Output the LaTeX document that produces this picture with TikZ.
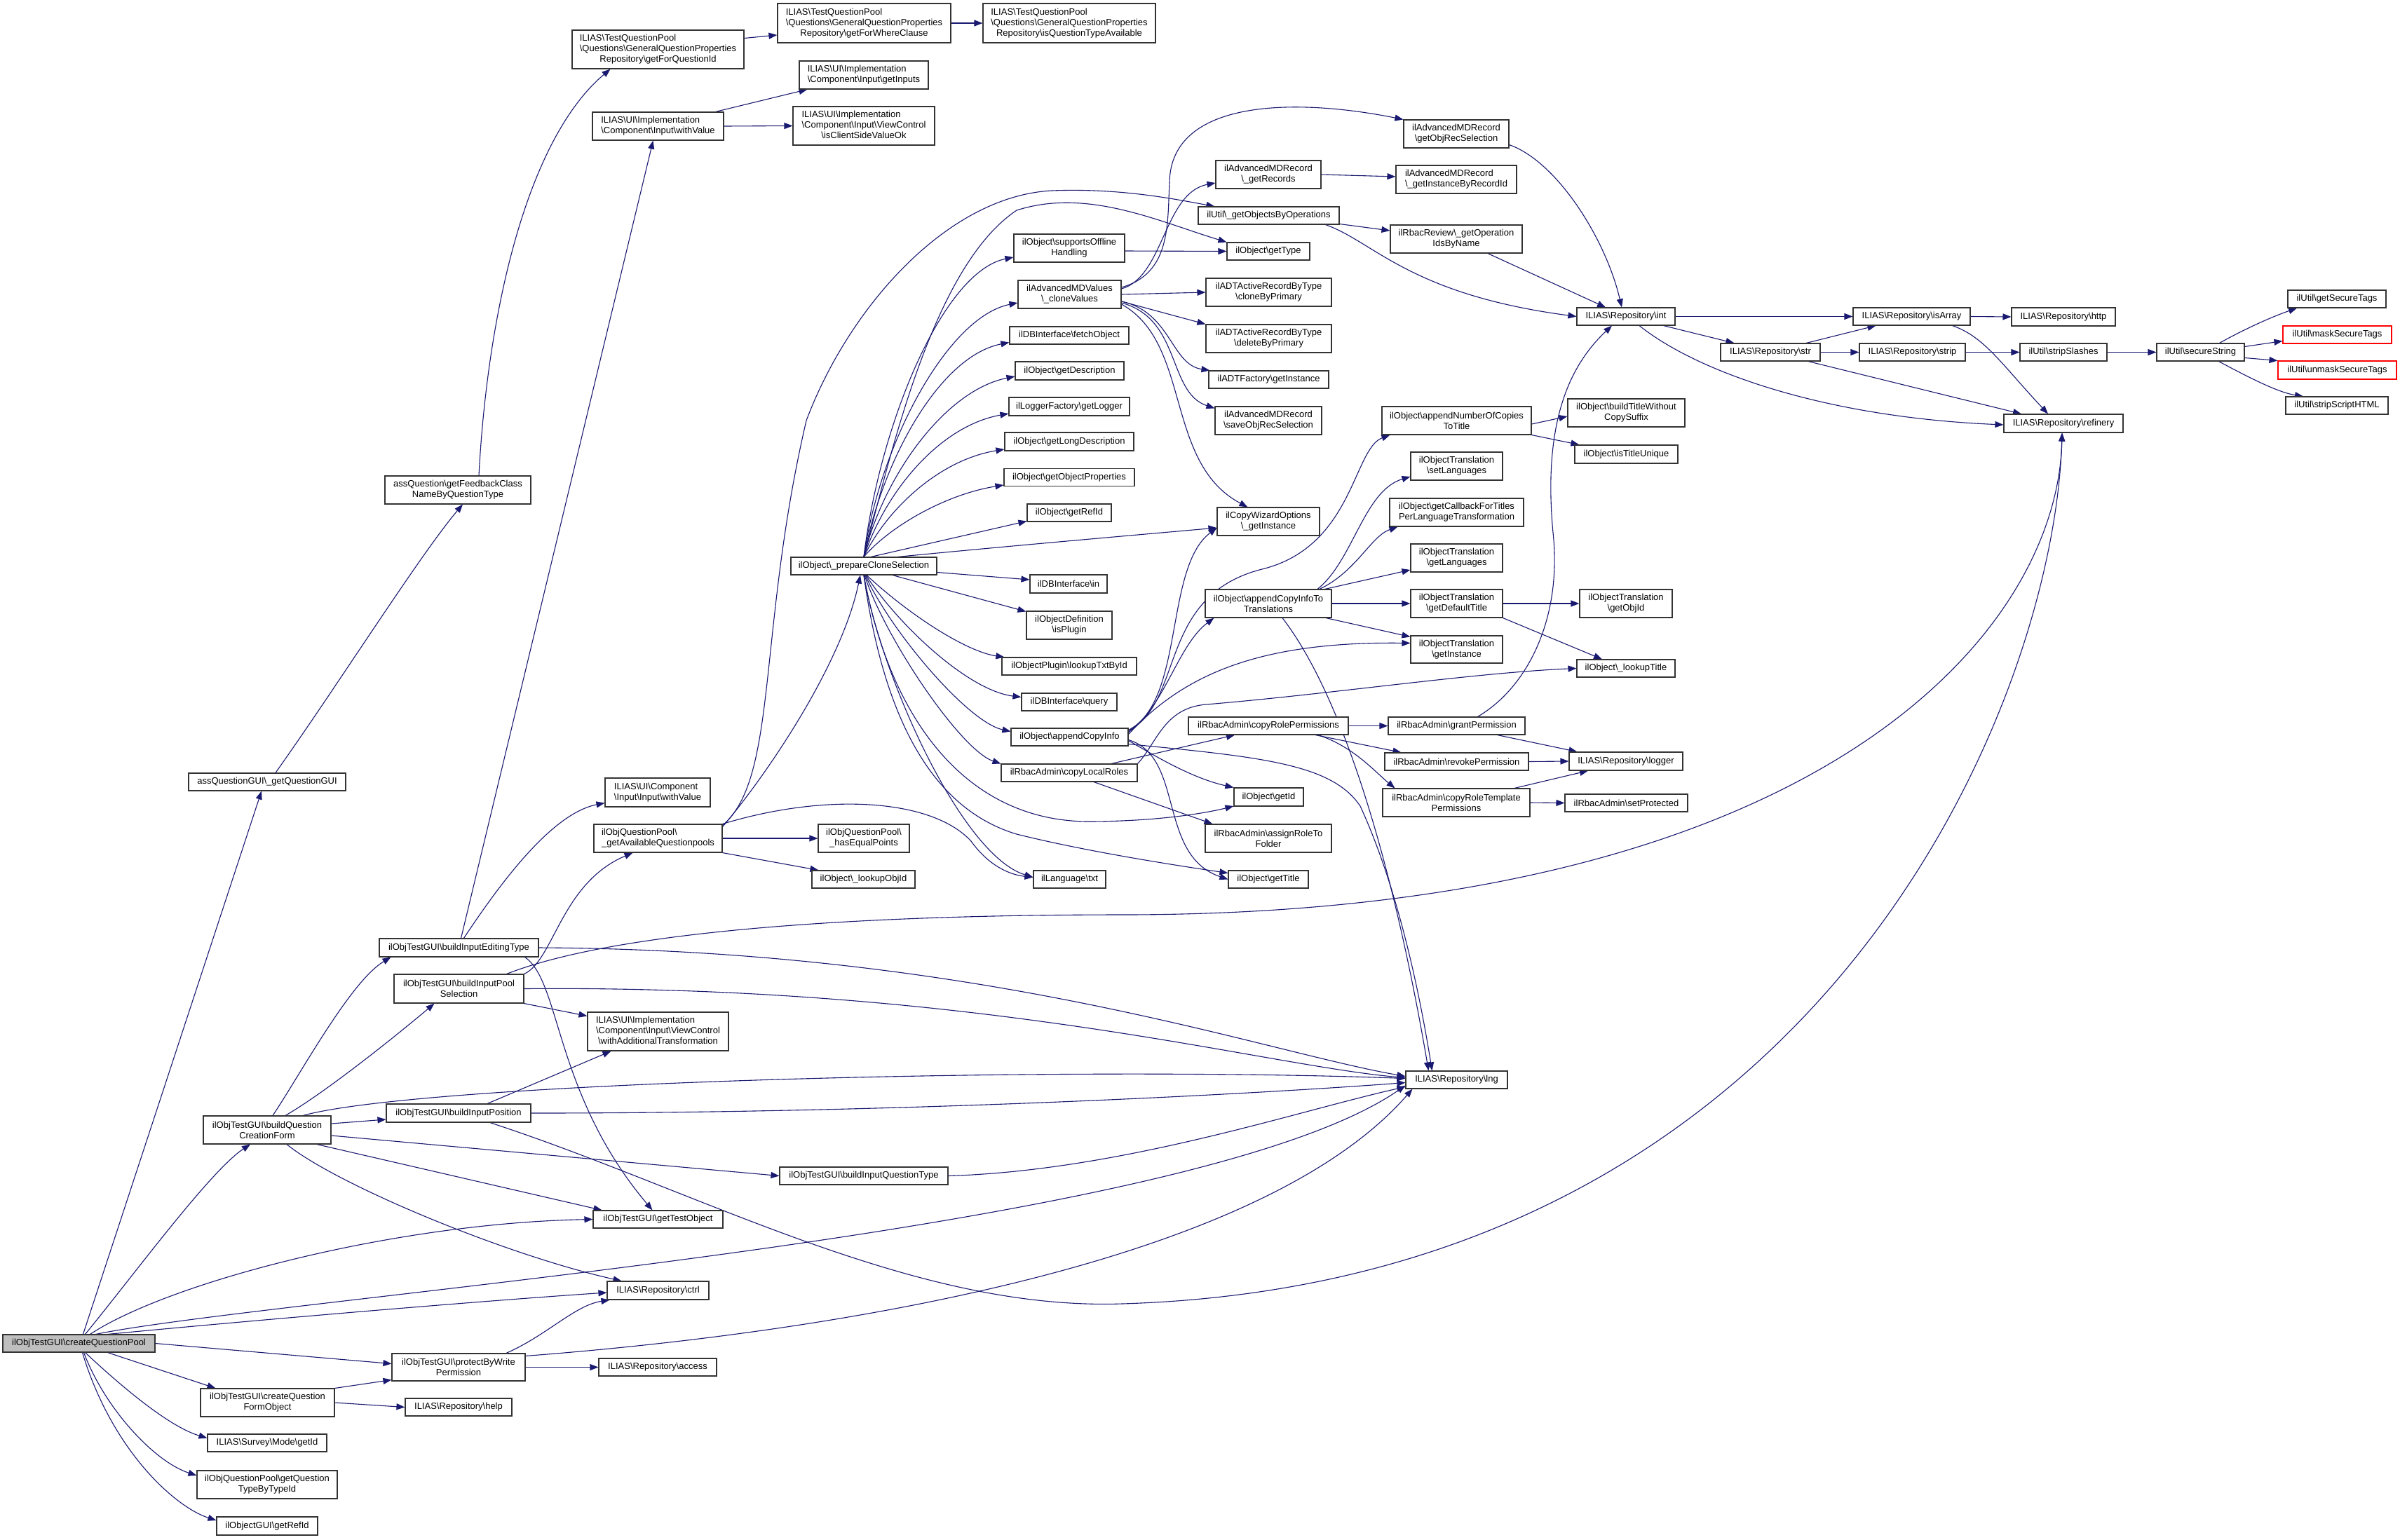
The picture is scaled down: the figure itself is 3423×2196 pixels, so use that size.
\documentclass[tikz,border=0pt]{standalone}
\usepackage{fontspec}
\setmainfont{Liberation Sans}
\usetikzlibrary{arrows.meta}
\newcommand{\bksl}{\textbackslash}
\newcommand{\llc}[3]{\begin{tabular}{@{}l@{}}#1\\#2\\\multicolumn{1}{@{}c@{}}{#3}\end{tabular}}
\definecolor{edgeblue}{HTML}{191970}
\definecolor{nodeborder}{HTML}{333333}
\pgfdeclarelayer{bg}
\pgfsetlayers{bg,main}
\begin{document}
\begin{tikzpicture}[x=1pt,y=-1pt,
 fn/.style={draw=nodeborder, line width=1.1pt, fill=white, inner sep=0pt, align=center, font=\fontsize{13}{15}\selectfont, minimum height=25pt},
 fl/.style={fn, align=left},
 ea/.style={draw=edgeblue, line width=1.1pt, -{Triangle[length=12pt,width=9pt]}},
]
\useasboundingbox (0,0) rectangle (3423,2196);
% ---------- nodes ----------
\node[fn, minimum width=217pt, fill=black!25] (cqp) at (112.5,1916.5) {ilObjTestGUI\bksl createQuestionPool};
\node[fn, minimum width=224pt] (assq) at (381,1115.5) {assQuestionGUI\bksl\_getQuestionGUI};
\node[fn, minimum width=208pt, minimum height=40pt] (fb) at (653,699) {assQuestion\bksl getFeedbackClass\\NameByQuestionType};
\node[fn, minimum width=245pt, minimum height=55pt] (gfq) at (938.5,70.5) {\llc{ILIAS\bksl TestQuestionPool}{\bksl Questions\bksl GeneralQuestionProperties}{Repository\bksl getForQuestionId}};
\node[fn, minimum width=247pt, minimum height=56pt] (gfw) at (1232.5,33) {\llc{ILIAS\bksl TestQuestionPool}{\bksl Questions\bksl GeneralQuestionProperties}{Repository\bksl getForWhereClause}};
\node[fn, minimum width=246pt, minimum height=56pt] (iqta) at (1525,33) {\llc{ILIAS\bksl TestQuestionPool}{\bksl Questions\bksl GeneralQuestionProperties}{Repository\bksl isQuestionTypeAvailable}};
\node[fl, minimum width=187pt, minimum height=40pt] (wv) at (938.5,180) {ILIAS\bksl UI\bksl Implementation\\\bksl Component\bksl Input\bksl withValue};
\node[fl, minimum width=184pt, minimum height=40pt] (gin) at (1232,107) {ILIAS\bksl UI\bksl Implementation\\\bksl Component\bksl Input\bksl getInputs};
\node[fn, minimum width=202pt, minimum height=55pt] (icsv) at (1232,179.5) {\llc{ILIAS\bksl UI\bksl Implementation}{\bksl Component\bksl Input\bksl ViewControl}{\bksl isClientSideValueOk}};
\node[fn, minimum width=182pt, minimum height=40pt] (bqcf) at (381,1612) {ilObjTestGUI\bksl buildQuestion\\CreationForm};
\node[fn, minimum width=191pt, minimum height=40pt] (cqfo) at (381.5,2001) {ilObjTestGUI\bksl createQuestion\\FormObject};
\node[fn, minimum width=170pt] (sgid) at (381,2058.5) {ILIAS\bksl Survey\bksl Mode\bksl getId};
\node[fn, minimum width=200pt, minimum height=40pt] (gqt) at (381,2118) {ilObjQuestionPool\bksl getQuestion\\TypeByTypeId};
\node[fn, minimum width=144pt, minimum height=26pt] (grefid) at (381,2177) {ilObjectGUI\bksl getRefId};
\node[fn, minimum width=227pt, minimum height=26pt] (biet) at (654.5,1352) {ilObjTestGUI\bksl buildInputEditingType};
\node[fn, minimum width=185pt, minimum height=41pt] (bips) at (654.5,1410.5) {ilObjTestGUI\bksl buildInputPool\\Selection};
\node[fn, minimum width=206pt, minimum height=26pt] (bip) at (654,1588) {ilObjTestGUI\bksl buildInputPosition};
\node[fn, minimum width=190pt, minimum height=39pt] (pbwp) at (654,1950.5) {ilObjTestGUI\bksl protectByWrite\\Permission};
\node[fn, minimum width=152pt] (help) at (654,2007.5) {ILIAS\bksl Repository\bksl help};
\node[fl, minimum width=150pt, minimum height=41pt] (ciwv) at (938,1130.5) {ILIAS\bksl UI\bksl Component\\\bksl Input\bksl Input\bksl withValue};
\node[fl, minimum width=183pt, minimum height=40pt] (gaq) at (938.5,1196) {ilObjQuestionPool\bksl\\\_getAvailableQuestionpools};
\node[fn, minimum width=201pt, minimum height=55pt] (wat) at (938.5,1471.5) {\llc{ILIAS\bksl UI\bksl Implementation}{\bksl Component\bksl Input\bksl ViewControl}{\bksl withAdditionalTransformation}};
\node[fn, minimum width=185pt] (gto) at (938.5,1739.5) {ilObjTestGUI\bksl getTestObject};
\node[fn, minimum width=145pt, minimum height=26pt] (ctrl) at (938.5,1841) {ILIAS\bksl Repository\bksl ctrl};
\node[fn, minimum width=168pt] (access) at (938,1950.5) {ILIAS\bksl Repository\bksl access};
\node[fn, minimum width=240pt] (biqt) at (1232,1677.5) {ilObjTestGUI\bksl buildInputQuestionType};
\node[fn, minimum width=208pt] (pcs) at (1232,807.5) {ilObject\bksl\_prepareCloneSelection};
\node[fn, minimum width=130pt, minimum height=40pt] (heq) at (1232,1196) {ilObjQuestionPool\bksl\\\_hasEqualPoints};
\node[fn, minimum width=147pt] (loid) at (1231.5,1254.5) {ilObject\bksl\_lookupObjId};
\node[fn, minimum width=158pt, minimum height=40pt] (soh) at (1525,354) {ilObject\bksl supportsOffline\\Handling};
\node[fn, minimum width=147pt, minimum height=40pt] (acv) at (1525.5,420) {ilAdvancedMDValues\\\bksl\_cloneValues};
\node[fn, minimum width=170pt] (fo) at (1525,478.5) {ilDBInterface\bksl fetchObject};
\node[fn, minimum width=155pt, minimum height=26pt] (gd) at (1525.5,529) {ilObject\bksl getDescription};
\node[fn, minimum width=172pt, minimum height=26pt] (gl) at (1525,580) {ilLoggerFactory\bksl getLogger};
\node[fn, minimum width=184pt, minimum height=26pt] (gld) at (1525,630) {ilObject\bksl getLongDescription};
\node[fn, minimum width=186pt] (gop) at (1525,681) {ilObject\bksl getObjectProperties};
\node[fn, minimum width=120pt] (orefid) at (1525,731.5) {ilObject\bksl getRefId};
\node[fn, minimum width=110pt, minimum height=26pt] (dbin) at (1524,833) {ilDBInterface\bksl in};
\node[fn, minimum width=122pt, minimum height=40pt] (iplug) at (1525,892) {ilObjectDefinition\\\bksl isPlugin};
\node[fn, minimum width=192pt] (ltxt) at (1525,950.5) {ilObjectPlugin\bksl lookupTxtById};
\node[fn, minimum width=136pt] (query) at (1525,1001.5) {ilDBInterface\bksl query};
\node[fn, minimum width=167pt] (aci) at (1525.5,1051.5) {ilObject\bksl appendCopyInfo};
\node[fn, minimum width=194pt] (clr) at (1525,1102.5) {ilRbacAdmin\bksl copyLocalRoles};
\node[fn, minimum width=103pt] (txt) at (1525.5,1254.5) {ilLanguage\bksl txt};
\node[fn, minimum width=201pt] (gobo) at (1809.5,307.5) {ilUtil\bksl\_getObjectsByOperations};
\node[fn, minimum width=150pt, minimum height=40pt] (agr) at (1809,249) {ilAdvancedMDRecord\\\bksl\_getRecords};
\node[fn, minimum width=118pt] (gtype) at (1809,358.5) {ilObject\bksl getType};
\node[fn, minimum width=179pt, minimum height=40pt] (cbp) at (1809.5,417) {ilADTActiveRecordByType\\\bksl cloneByPrimary};
\node[fn, minimum width=179pt, minimum height=40pt] (dbp) at (1809.5,483) {ilADTActiveRecordByType\\\bksl deleteByPrimary};
\node[fn, minimum width=171pt] (adtf) at (1809.5,541.5) {ilADTFactory\bksl getInstance};
\node[fn, minimum width=152pt, minimum height=40pt] (sors) at (1809,600) {ilAdvancedMDRecord\\\bksl saveObjRecSelection};
\node[fn, minimum width=146pt, minimum height=40pt] (cwo) at (1809,744) {ilCopyWizardOptions\\\bksl\_getInstance};
\node[fn, minimum width=180pt, minimum height=40pt] (acitt) at (1809,861) {ilObject\bksl appendCopyInfoTo\\Translations};
\node[fn, minimum width=228pt] (crp) at (1809,1035.5) {ilRbacAdmin\bksl copyRolePermissions};
\node[fn, minimum width=99pt, minimum height=26pt] (oid) at (1809.5,1137) {ilObject\bksl getId};
\node[fn, minimum width=180pt, minimum height=40pt] (artf) at (1809,1196) {ilRbacAdmin\bksl assignRoleTo\\Folder};
\node[fn, minimum width=114pt] (otitle) at (1809,1254.5) {ilObject\bksl getTitle};
\node[fn, minimum width=150pt, minimum height=40pt] (gors) at (2077,191) {ilAdvancedMDRecord\\\bksl getObjRecSelection};
\node[fl, minimum width=172pt, minimum height=40pt] (gibr) at (2077,256) {ilAdvancedMDRecord\\\bksl\_getInstanceByRecordId};
\node[fn, minimum width=188pt, minimum height=40pt] (goin) at (2077,341) {ilRbacReview\bksl\_getOperation\\IdsByName};
\node[fn, minimum width=213pt, minimum height=40pt] (anc) at (2077.5,600) {ilObject\bksl appendNumberOfCopies\\ToTitle};
\node[fn, minimum width=131pt, minimum height=40pt] (setl) at (2077.5,665) {ilObjectTranslation\\\bksl setLanguages};
\node[fn, minimum width=191pt, minimum height=40pt] (gcb) at (2077.5,731) {ilObject\bksl getCallbackForTitles\\PerLanguageTransformation};
\node[fn, minimum width=131pt, minimum height=40pt] (getl) at (2077.5,796) {ilObjectTranslation\\\bksl getLanguages};
\node[fn, minimum width=131pt, minimum height=40pt] (gdt) at (2077.5,861) {ilObjectTranslation\\\bksl getDefaultTitle};
\node[fn, minimum width=131pt, minimum height=39pt] (otgi) at (2077.5,926.5) {ilObjectTranslation\\\bksl getInstance};
\node[fn, minimum width=195pt] (gperm) at (2077.5,1035.5) {ilRbacAdmin\bksl grantPermission};
\node[fn, minimum width=205pt] (rperm) at (2077.5,1086.5) {ilRbacAdmin\bksl revokePermission};
\node[fn, minimum width=210pt, minimum height=40pt] (crtp) at (2077,1145) {ilRbacAdmin\bksl copyRoleTemplate\\Permissions};
\node[fn, minimum width=145pt] (lng) at (2077.5,1540.5) {ILIAS\bksl Repository\bksl lng};
\node[fn, minimum width=140pt] (int) at (2319,451.5) {ILIAS\bksl Repository\bksl int};
\node[fn, minimum width=167pt, minimum height=40pt] (btw) at (2319.5,589) {ilObject\bksl buildTitleWithout\\CopySuffix};
\node[fn, minimum width=147pt, minimum height=26pt] (itu) at (2319.5,648) {ilObject\bksl isTitleUnique};
\node[fn, minimum width=132pt, minimum height=40pt] (goid) at (2319,861) {ilObjectTranslation\\\bksl getObjId};
\node[fn, minimum width=140pt] (lt) at (2319,953.5) {ilObject\bksl\_lookupTitle};
\node[fn, minimum width=162pt, minimum height=26pt] (logger) at (2319,1086) {ILIAS\bksl Repository\bksl logger};
\node[fn, minimum width=175pt] (sprot) at (2319.5,1145.5) {ilRbacAdmin\bksl setProtected};
\node[fn, minimum width=142pt] (str) at (2525,502.5) {ILIAS\bksl Repository\bksl str};
\node[fn, minimum width=167pt] (isarr) at (2726.5,451.5) {ILIAS\bksl Repository\bksl isArray};
\node[fn, minimum width=151pt] (strip) at (2727.5,502.5) {ILIAS\bksl Repository\bksl strip};
\node[fn, minimum width=148pt, minimum height=26pt] (http) at (2943,452) {ILIAS\bksl Repository\bksl http};
\node[fn, minimum width=124pt] (sslash) at (2943,502.5) {ilUtil\bksl stripSlashes};
\node[fn, minimum width=170pt, minimum height=26pt] (refin) at (2943,604) {ILIAS\bksl Repository\bksl refinery};
\node[fn, minimum width=125pt] (sstr) at (3138.5,502.5) {ilUtil\bksl secureString};
\node[fn, minimum width=140pt] (gst) at (3333,426.5) {ilUtil\bksl getSecureTags};
\node[fn, minimum width=155pt, draw=red] (mst) at (3333.5,477.5) {ilUtil\bksl maskSecureTags};
\node[fn, minimum width=169pt, minimum height=26pt, draw=red] (umst) at (3333.5,528) {ilUtil\bksl unmaskSecureTags};
\node[fn, minimum width=146pt] (ssh) at (3333,578.5) {ilUtil\bksl stripScriptHTML};
% ---------- edges ----------
\begin{pgfonlayer}{bg}
\fill[white] (0,0) rectangle (3423,2196);
% createQuestionPool
\draw[ea] ([xshift=6pt]cqp.north) -- ([xshift=-8pt]assq.south);
\draw[ea] ([xshift=9pt]cqp.north) .. controls (190,1820) and (300,1670) .. ([xshift=-24pt]bqcf.south);
\draw[ea] ([xshift=16pt]cqp.north) .. controls (240,1830) and (560,1745) .. (gto.west);
\draw[ea] ([xshift=24pt]cqp.north) .. controls (400,1850) and (1700,1760) .. ([yshift=-8pt]lng.west);
\draw[ea] ([xshift=41pt]cqp.north) .. controls (400,1880) and (700,1855) .. ([yshift=-3pt]ctrl.west);
\draw[ea] (cqp.east) -- ([yshift=5pt]pbwp.west);
\draw[ea] ([xshift=41pt]cqp.south) -- ([xshift=-74pt]cqfo.north);
\draw[ea] ([xshift=9pt]cqp.south) .. controls (170,1975) and (240,2035) .. ([yshift=7pt]sgid.west);
\draw[ea] ([xshift=7pt]cqp.south) .. controls (150,2010) and (220,2085) .. ([yshift=13pt]gqt.west);
\draw[ea] ([xshift=5pt]cqp.south) .. controls (160,2070) and (250,2150) .. ([yshift=8pt]grefid.west);
% assQuestionGUI chain
\draw[ea] ([xshift=12pt]assq.north) .. controls (480,980) and (600,790) .. ([xshift=7pt]fb.south);
\draw[ea] ([xshift=30pt]fb.north) .. controls (695,450) and (750,200) .. ([xshift=-68pt]gfq.south);
\draw[ea] ([yshift=16pt]gfq.east) -- ([yshift=-17pt]gfw.west);
\draw[ea] (gfw.east) -- (iqta.west);
\draw[ea] ([xshift=-12pt]wv.north east) -- ([xshift=12pt]gin.south west);
\draw[ea] (wv.east) -- (icsv.west);
% buildQuestionCreationForm
\draw[ea] ([xshift=8pt]bqcf.north) .. controls (430,1530) and (500,1400) .. ([xshift=-97pt]biet.south);
\draw[ea] ([xshift=26pt]bqcf.north) .. controls (470,1555) and (580,1465) .. ([xshift=-35pt]bips.south);
\draw[ea] ([xshift=51pt]bqcf.north) .. controls (600,1545) and (1500,1520) .. ([yshift=2pt]lng.west);
\draw[ea] ([yshift=9pt]bqcf.east) -- ([yshift=-9pt]bip.west);
\draw[ea] ([yshift=-8pt]bqcf.east) -- (biqt.west);
\draw[ea] ([xshift=71pt]bqcf.south) -- ([xshift=-80pt]gto.north);
\draw[ea] ([xshift=28pt]bqcf.south) .. controls (480,1690) and (720,1790) .. ([xshift=-52pt]ctrl.north);
% buildInputEditingType
\draw[ea] ([xshift=3pt]biet.north) -- ([xshift=-7pt]wv.south);
\draw[ea] ([xshift=7pt]biet.north) .. controls (720,1250) and (790,1160) .. ([yshift=6pt]ciwv.south west);
\draw[ea] (biet.east) .. controls (1400,1355) and (1800,1500) .. ([yshift=5pt]lng.west);
\draw[ea] ([xshift=-20pt]biet.south east) .. controls (800,1400) and (790,1560) .. ([xshift=-8pt]gto.north);
% buildInputPoolSelection
\draw[ea] (bips.north east) .. controls (790,1370) and (800,1260) .. ([xshift=-36pt]gaq.south);
\draw[ea] (bips.east) .. controls (1400,1405) and (1800,1520) .. ([yshift=3pt]lng.west);
\draw[ea] (bips.south east) -- ([yshift=-6pt]wat.north west);
\draw[ea] ([xshift=68pt]bips.north) .. controls (900,1320) and (1300,1305) .. (1600,1305) .. controls (2600,1305) and (2935,900) .. ([xshift=-2pt]refin.south);
% buildInputPosition
\draw[ea] ([xshift=41pt]bip.north) -- ([xshift=-67pt]wat.south);
\draw[ea] (bip.east) .. controls (1300,1588) and (1800,1560) .. ([yshift=-4pt]lng.west);
\draw[ea] ([xshift=45pt]bip.south) .. controls (1000,1700) and (1300,1870) .. (1600,1860) .. controls (2600,1830) and (2930,1000) .. ([xshift=-2pt]refin.south);
% buildInputQuestionType
\draw[ea] (biqt.east) .. controls (1600,1670) and (1850,1585) .. ([yshift=-10pt]lng.west);
% protectByWritePermission
\draw[ea] ([xshift=68pt]pbwp.north) .. controls (780,1905) and (820,1862) .. ([xshift=4pt]ctrl.south west);
\draw[ea] (pbwp.east) -- (access.west);
\draw[ea] ([yshift=-4pt]pbwp.north east) .. controls (1200,1900) and (1800,1800) .. ([xshift=10pt]lng.south west);
% createQuestionFormObject
\draw[ea] (cqfo.north east) -- ([yshift=2pt]pbwp.south west);
\draw[ea] (cqfo.east) -- (help.west);
% _getAvailableQuestionpools
\draw[ea] ([yshift=-4pt]gaq.north east) .. controls (1090,1110) and (1200,950) .. ([xshift=-5pt]pcs.south);
\draw[ea] ([yshift=-2pt]gaq.north east) .. controls (1110,1110) and (1080,900) .. (1150,600) .. controls (1210,440) and (1350,280) .. (1500,272) .. controls (1600,268) and (1680,285) .. ([xshift=24pt]gobo.north west);
\draw[ea] (gaq.north east) .. controls (1180,1130) and (1330,1140) .. (1385,1200) .. controls (1410,1235) and (1440,1248) .. ([yshift=3pt]txt.west);
\draw[ea] (gaq.east) -- (heq.west);
\draw[ea] (gaq.south east) -- ([xshift=10pt]loid.north west);
% _prepareCloneSelection, upper fan
\draw[ea] (pcs.north) .. controls (1270,650) and (1330,380) .. (1450,300) .. controls (1550,268) and (1650,315) .. (gtype.north west);
\draw[ea] (pcs.north) .. controls (1255,602) and (1346,387) .. ([yshift=-13pt]soh.west);
\draw[ea] (pcs.north) .. controls (1255,632) and (1352,452) .. ([yshift=-12pt]acv.west);
\draw[ea] (pcs.north) .. controls (1258,657) and (1340,508) .. ([yshift=-10pt]fo.west);
\draw[ea] (pcs.north) .. controls (1260,679) and (1348,557) .. ([yshift=-8pt]gd.west);
\draw[ea] (pcs.north) .. controls (1262,703) and (1339,608) .. ([yshift=-10pt]gl.west);
\draw[ea] (pcs.north) .. controls (1265,726) and (1340,656) .. ([yshift=-11pt]gld.west);
\draw[ea] (pcs.north) .. controls (1270,750) and (1350,705) .. ([yshift=-11pt]gop.west);
\draw[ea] ([xshift=10pt]pcs.north) -- ([yshift=-12pt]orefid.west);
\draw[ea] ([xshift=48pt]pcs.north) .. controls (1450,778) and (1600,765) .. ([yshift=-9pt]cwo.west);
\draw[ea] ([yshift=-9pt]pcs.east) -- ([yshift=6pt]dbin.west);
\draw[ea] ([xshift=41pt]pcs.south) -- ([yshift=-1pt]iplug.north west);
% _prepareCloneSelection, lower fan
\draw[ea] ([xshift=4pt]pcs.south) .. controls (1300,880) and (1380,930) .. ([xshift=4pt]ltxt.north west);
\draw[ea] ([xshift=3pt]pcs.south) .. controls (1280,890) and (1380,985) .. ([yshift=7pt]query.west);
\draw[ea] ([xshift=2pt]pcs.south) .. controls (1270,900) and (1380,1030) .. ([yshift=8pt]aci.west);
\draw[ea] ([xshift=1pt]pcs.south) .. controls (1262,910) and (1370,1070) .. (clr.north west);
\draw[ea] (pcs.south) .. controls (1255,960) and (1370,1220) .. ([yshift=3pt]txt.west);
\draw[ea] (pcs.south) .. controls (1270,1030) and (1380,1170) .. (1550,1172) .. controls (1650,1172) and (1720,1160) .. ([yshift=-13pt]oid.west);
\draw[ea] (pcs.south) .. controls (1265,1060) and (1350,1160) .. (1450,1190) .. controls (1550,1215) and (1680,1235) .. ([yshift=9pt]otitle.west);
% supportsOfflineHandling
\draw[ea] ([yshift=-4pt]soh.east) -- (gtype.west);
% _cloneValues
\draw[ea] ([yshift=8pt]acv.east) .. controls (1660,395) and (1660,275) .. ([yshift=-12pt]agr.west);
\draw[ea] ([yshift=10pt]acv.east) .. controls (1670,390) and (1665,320) .. (1668,260) .. controls (1670,140) and (1850,140) .. (gors.north west);
\draw[ea] (acv.east) -- (cbp.west);
\draw[ea] ([yshift=-10pt]acv.east) -- (dbp.north west);
\draw[ea] ([yshift=-10pt]acv.east) .. controls (1670,445) and (1670,520) .. ([xshift=2pt]adtf.north west);
\draw[ea] ([yshift=-12pt]acv.east) .. controls (1685,455) and (1665,560) .. ([yshift=-3pt]sors.north west);
\draw[ea] ([yshift=-14pt]acv.east) .. controls (1700,490) and (1660,660) .. ([xshift=44pt]cwo.north west);
\draw[ea] (agr.east) -- ([yshift=4pt]gibr.west);
% _getObjectsByOperations
\draw[ea] ([yshift=-12pt]gobo.east) -- ([yshift=12pt]goin.west);
\draw[ea] ([xshift=-20pt]gobo.south east) .. controls (1960,345) and (2010,420) .. (int.west);
\draw[ea] ([xshift=45pt]goin.south) -- ([xshift=-29pt]int.north);
\draw[ea] ([yshift=5pt]gors.south east) .. controls (2220,230) and (2290,340) .. ([xshift=-6pt]int.north);
% Repository int / str / isArray
\draw[ea] (int.east) -- (isarr.west);
\draw[ea] ([xshift=-17pt]int.south east) -- ([xshift=20pt]str.north west);
\draw[ea] ([xshift=19pt]int.south) .. controls (2420,530) and (2600,595) .. ([yshift=-2pt]refin.west);
\draw[ea] ([xshift=51pt]str.north) -- ([xshift=-51pt]isarr.south);
\draw[ea] (str.east) -- (strip.west);
\draw[ea] ([xshift=54pt]str.south) -- ([xshift=-60pt]refin.north);
\draw[ea] (isarr.east) -- (http.west);
\draw[ea] ([xshift=58pt]isarr.south) .. controls (2830,480) and (2855,520) .. ([xshift=-22pt]refin.north);
\draw[ea] (strip.east) -- (sslash.west);
\draw[ea] (sslash.east) -- (sstr.west);
\draw[ea] ([xshift=27pt]sstr.north) .. controls (3200,470) and (3240,452) .. ([xshift=-57pt]gst.south);
\draw[ea] ([yshift=8pt]sstr.east) -- ([yshift=-9pt]mst.west);
\draw[ea] ([yshift=-8pt]sstr.east) -- (umst.north west);
\draw[ea] ([xshift=26pt]sstr.south) .. controls (3210,540) and (3250,560) .. ([xshift=-48pt]ssh.north);
% appendCopyInfo
\draw[ea] ([yshift=7pt]aci.east) .. controls (1660,1010) and (1680,920) .. ([xshift=13pt]acitt.south west);
\draw[ea] ([yshift=9pt]aci.east) .. controls (1690,1000) and (1650,850) .. (1800,812) .. controls (1930,780) and (1930,640) .. ([xshift=12pt]anc.south west);
\draw[ea] ([yshift=10pt]aci.east) .. controls (1690,1000) and (1660,810) .. ([yshift=-9pt]cwo.west);
\draw[ea] ([yshift=4pt]aci.east) .. controls (1690,960) and (1800,915) .. ([yshift=9pt]otgi.west);
\draw[ea] ([yshift=-5pt]aci.east) .. controls (1650,1080) and (1700,1110) .. (oid.north west);
\draw[ea] ([yshift=-4pt]aci.east) .. controls (1690,1080) and (1650,1220) .. (otitle.west);
\draw[ea] ([yshift=-10pt]aci.east) .. controls (1800,1080) and (1900,1090) .. (1940,1150) .. controls (2000,1280) and (2030,1450) .. ([xshift=-35pt]lng.north);
% appendCopyInfoToTranslations
\draw[ea] ([xshift=70pt]acitt.north) .. controls (1930,800) and (1945,700) .. ([yshift=-15pt]setl.west);
\draw[ea] ([xshift=73pt]acitt.north) .. controls (1935,815) and (1955,765) .. ([xshift=12pt]gcb.south west);
\draw[ea] ([xshift=-10pt]acitt.north east) -- ([yshift=-17pt]getl.west);
\draw[ea] (acitt.east) -- (gdt.west);
\draw[ea] ([xshift=82pt]acitt.south) -- ([yshift=18pt]otgi.west);
\draw[ea] ([xshift=20pt]acitt.south) .. controls (1920,1000) and (1990,1250) .. ([xshift=-40pt]lng.north);
% appendNumberOfCopiesToTitle, getDefaultTitle
\draw[ea] ([yshift=-5pt]anc.east) -- ([yshift=-5pt]btw.west);
\draw[ea] (anc.south east) -- ([xshift=7pt]itu.north west);
\draw[ea] (gdt.east) -- (goid.west);
\draw[ea] (gdt.south east) -- ([xshift=-34pt]lt.north);
% copyLocalRoles
\draw[ea] ([xshift=60pt]clr.north) -- ([xshift=-48pt]crp.south);
\draw[ea] (clr.north east) .. controls (1650,1060) and (1660,1010) .. (1720,1005) .. controls (1900,990) and (2100,960) .. (lt.west);
\draw[ea] ([xshift=35pt]clr.south) -- ([xshift=11pt]artf.north west);
% copyRolePermissions
\draw[ea] (crp.east) -- (gperm.west);
\draw[ea] ([xshift=67pt]crp.south) -- ([xshift=24pt]rperm.north west);
\draw[ea] ([xshift=71pt]crp.south) .. controls (1930,1065) and (1960,1100) .. ([xshift=18pt]crtp.north west);
\draw[ea] ([xshift=58pt]gperm.south) -- ([xshift=12pt]logger.north west);
\draw[ea] ([xshift=30pt]gperm.north) .. controls (2180,980) and (2228,880) .. (2215,760) .. controls (2200,600) and (2240,520) .. ([xshift=-20pt]int.south);
\draw[ea] (rperm.east) -- (logger.west);
\draw[ea] ([xshift=83pt]crtp.north) -- ([xshift=-54pt]logger.south);
\draw[ea] (crtp.east) -- (sprot.west);
\end{pgfonlayer}
\end{tikzpicture}
\end{document}
